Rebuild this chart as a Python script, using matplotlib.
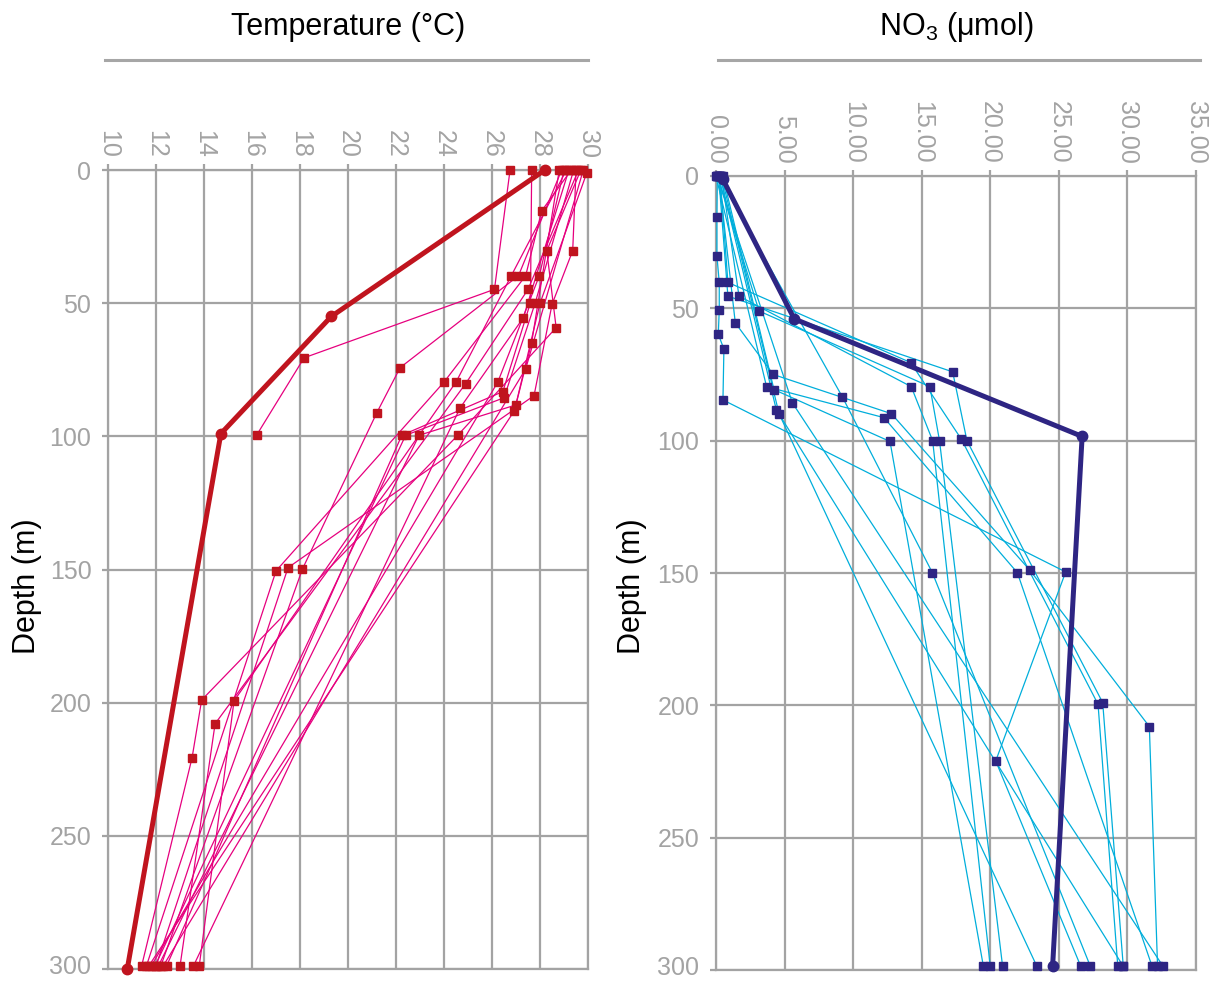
import matplotlib
matplotlib.use("Agg")
import matplotlib.pyplot as plt
from matplotlib.transforms import ScaledTranslation

plt.rcParams['font.family'] = ['Liberation Sans', 'DejaVu Sans']
plt.rcParams['mathtext.fontset'] = 'custom'
plt.rcParams['mathtext.rm'] = 'Liberation Sans'
plt.rcParams['mathtext.it'] = 'Liberation Sans:italic'
plt.rcParams['mathtext.bf'] = 'Liberation Sans:bold'

# ---------------- data ----------------
temp_mean_depth = [0, 55, 99, 300]
temp_mean_value = [28.2, 19.3, 14.7, 10.8]

# individual temperature profiles: (depths, values)
temp_profiles_depth = [
    [0, 15.3, 39.7, 79.6, 150.5, 298.8],
    [0, 30.3, 50.4, 84.7, 149.3, 298.8],
    [0, 44.8, 70.5, 99.4],
    [0, 39.7, 74.2, 91.1, 149.8, 298.8],
    [0, 30.3, 59.2, 99.6, 199, 220.7, 298.8],
    [0, 39.7, 79.6, 199.3, 298.8],
    [0, 44.8, 80.2, 207.9, 298.8],
    [0, 49.8, 83.2, 99.6, 298.8],
    [0, 49.8, 85.5, 99.6, 298.8],
    [1, 50.0, 88.2, 99.6, 298.8],
    [0, 55.5, 89.3, 298.8],
    [0, 64.8, 90.4, 298.8],
    [0, 74.7, 298.8],
    [0, 39.7, 79.6, 298.8],
]
temp_profiles_value = [
    [29.3, 28.07, 27.4, 24.0, 17.0, 11.6],
    [29.5, 29.36, 28.5, 27.75, 17.5, 12.0],
    [26.75, 26.1, 18.17, 16.2],
    [28.9, 27.1, 22.17, 21.2, 18.1, 12.2],
    [29.7, 28.28, 28.67, 24.57, 13.9, 13.5, 11.4],
    [29.1, 26.8, 24.5, 15.25, 13.8],
    [29.6, 27.5, 24.9, 14.46, 13.0],
    [27.65, 27.6, 26.45, 22.24, 12.44],
    [29.4, 27.8, 26.5, 22.4, 11.96],
    [29.95, 28.0, 26.99, 22.96, 12.1],
    [29.2, 27.3, 24.67, 13.56],
    [28.8, 27.65, 26.93, 11.7],
    [29.8, 27.4, 12.3],
    [29.0, 27.97, 26.24, 11.8],
]

no3_mean_depth = [1, 54, 98.4, 298.3]
no3_mean_value = [0.48, 5.71, 26.7, 24.55]

no3_profiles_depth = [
    [0, 15.4, 30.2, 40.2, 50.7, 59.8, 65.4, 84.6, 149.6, 221, 298.6],
    [0, 40.2, 70.5, 99.5, 199.6, 298.6],
    [0, 45.4, 74, 100, 199, 298.6],
    [0, 45.4, 79.6, 100, 298.6],
    [0, 51, 79.6, 100, 298.6],
    [0, 55.5, 75, 89.8, 149, 208, 298.6],
    [0, 79.6, 91.3, 149.9, 298.6],
    [0, 80.7, 100.3, 298.6],
    [0, 83.4, 149.9, 298.6],
    [0, 85.7, 298.6],
    [0, 88.3, 298.6],
    [0, 89.8, 298.6],
]
no3_profiles_value = [
    [0.1, 0.07, 0.07, 0.24, 0.24, 0.17, 0.58, 0.51, 25.5, 20.4, 26.6],
    [0.3, 0.87, 14.2, 17.9, 27.86, 29.3],
    [0.2, 0.87, 17.26, 18.3, 28.2, 29.7],
    [0.4, 1.68, 14.24, 15.8, 20.0],
    [0.1, 3.14, 15.6, 16.3, 20.9],
    [0.2, 1.41, 4.18, 12.79, 22.9, 31.6, 32.2],
    [0.0, 3.69, 12.25, 21.98, 31.8],
    [0.5, 4.23, 12.69, 19.5],
    [0.2, 9.21, 15.78, 27.3],
    [0.1, 5.57, 32.6],
    [0.3, 4.4, 29.7],
    [0.4, 4.6, 23.4],
]

temp_ticks = [10, 12, 14, 16, 18, 20, 22, 24, 26, 28, 30]
no3_ticks = [0, 5, 10, 15, 20, 25, 30, 35]
depth_ticks = [0, 50, 100, 150, 200, 250, 300]

# ---------------- styling ----------------
GRID = '#A3A3A3'
TICKC = '#A3A3A3'

fig = plt.figure(figsize=(12.1, 9.81), dpi=100)
ax1 = fig.add_axes([0.0893, 0.0122, 0.3967, 0.8145])
ax2 = fig.add_axes([0.5917, 0.0112, 0.3967, 0.8094])


def style(ax, xticks, xlim, fmt):
    ax.set_xlim(*xlim)
    ax.set_ylim(300, 0)
    ax.set_xticks(xticks)
    ax.set_xticklabels([fmt(v) for v in xticks], rotation=-90)
    ax.set_yticks(depth_ticks)
    ax.xaxis.tick_top()
    ax.tick_params(axis='both', colors=TICKC, labelcolor=TICKC, labelsize=18,
                   length=4, width=1.6, direction='out')
    ax.tick_params(axis='x', pad=5)
    ax.tick_params(axis='y', pad=8)
    ax.grid(True, color=GRID, linewidth=1.6)
    ax.set_axisbelow(True)
    for s in ax.spines.values():
        s.set_color(GRID)
        s.set_linewidth(1.6)
        s.set_zorder(0.5)
    # keep the bottom depth label inside the canvas
    lbl = ax.yaxis.get_major_ticks()[-1].label1
    lbl.set_transform(lbl.get_transform() + ScaledTranslation(0, 3 / 72, fig.dpi_scale_trans))


style(ax1, temp_ticks, (10, 30), lambda v: f"{v:d}")
style(ax2, no3_ticks, (0, 35), lambda v: f"{v:.2f}")

# temperature panel
for d, v in zip(temp_profiles_depth, temp_profiles_value):
    ax1.plot(v, d, color='#E6007E', linewidth=0.9, zorder=2, clip_on=False)
for d, v in zip(temp_profiles_depth, temp_profiles_value):
    ax1.plot(v, d, linestyle='none', marker='s', markersize=5.2,
             color='#C0141E', zorder=3, clip_on=False)
ax1.plot(temp_mean_value, temp_mean_depth, color='#C0141E', linewidth=3.6,
         marker='o', markersize=7.5, zorder=4, clip_on=False)

# NO3 panel
for d, v in zip(no3_profiles_depth, no3_profiles_value):
    ax2.plot(v, d, color='#00AEDB', linewidth=0.9, zorder=2, clip_on=False)
for d, v in zip(no3_profiles_depth, no3_profiles_value):
    ax2.plot(v, d, linestyle='none', marker='s', markersize=5.2,
             color='#2E2583', zorder=3, clip_on=False)
ax2.plot(no3_mean_value, no3_mean_depth, color='#2E2583', linewidth=3.6,
         marker='o', markersize=7.5, zorder=4, clip_on=False)

# labels
for ax in (ax1, ax2):
    ax.set_ylabel('Depth (m)', fontsize=22, color='black')
    ax.yaxis.label.set_verticalalignment('center')
ax1.yaxis.set_label_coords(-0.169, 0.479)
ax2.yaxis.set_label_coords(-0.175, 0.484)

# titles and rule lines
fig.text(0.288, 0.972, 'Temperature (°C)', ha='center', va='center', fontsize=22)
fig.text(0.790, 0.972, r'NO$_\mathregular{3}$ (μmol)', ha='center', va='center', fontsize=22)
ax1.plot([-0.006, 1.0], [1.1376, 1.1376], transform=ax1.transAxes, color='#A6A6A6',
         linewidth=2.2, clip_on=False)
ax2.plot([0.004, 1.008], [1.146, 1.146], transform=ax2.transAxes,
         color='#A6A6A6', linewidth=2.2, clip_on=False)

fig.savefig('out.png', dpi=100)
